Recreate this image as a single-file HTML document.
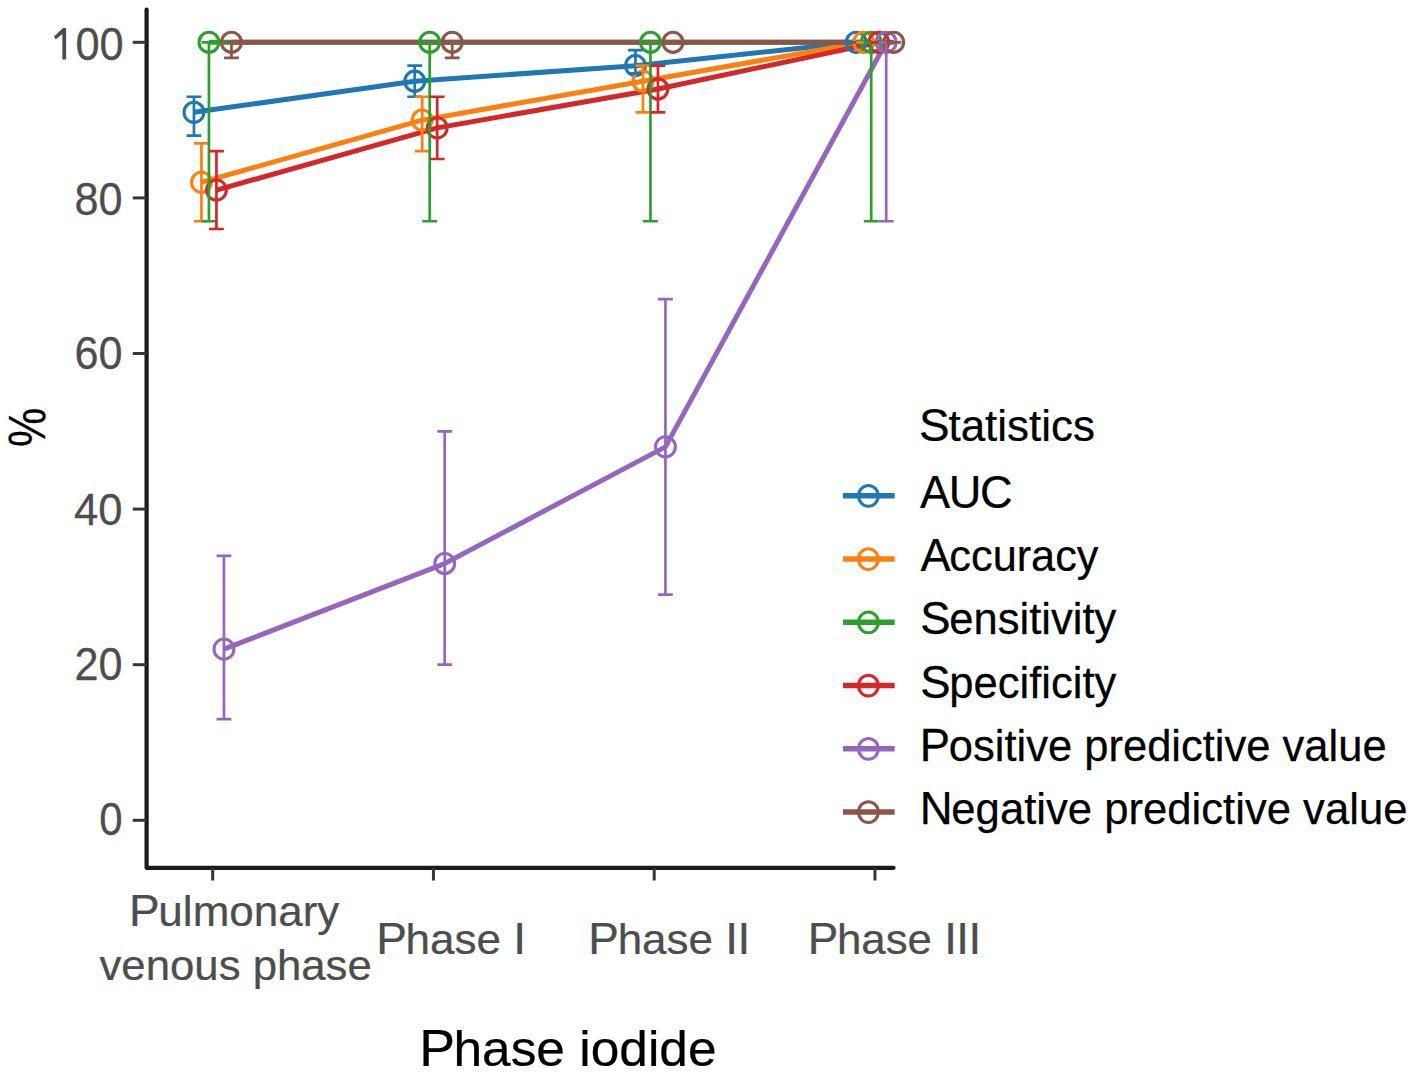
<!DOCTYPE html>
<html><head><meta charset="utf-8"><title>Phase iodide statistics</title>
<style>html,body{margin:0;padding:0;background:#fff;overflow:hidden;}svg{display:block;}text{font-family:"Liberation Sans", sans-serif;stroke-width:0.25px;stroke-linejoin:round;}</style>
</head><body>
<svg width="1417" height="1076" viewBox="0 0 1417 1076">
<rect x="0" y="0" width="1417" height="1076" fill="#ffffff"/>
<polyline points="193.95,112.32 414.70,81.20 635.45,65.64 856.20,42.30" fill="none" stroke="#1f77b4" stroke-width="5.0" stroke-linejoin="round" stroke-linecap="butt"/>
<polyline points="201.45,182.34 422.20,120.10 642.95,81.20 863.70,42.30" fill="none" stroke="#ff7f0e" stroke-width="5.0" stroke-linejoin="round" stroke-linecap="butt"/>
<polyline points="208.95,42.30 429.70,42.30 650.45,42.30 871.20,42.30" fill="none" stroke="#2ca02c" stroke-width="5.0" stroke-linejoin="round" stroke-linecap="butt"/>
<polyline points="216.45,190.12 437.20,127.88 657.95,88.98 878.70,42.30" fill="none" stroke="#d62728" stroke-width="5.0" stroke-linejoin="round" stroke-linecap="butt"/>
<polyline points="223.95,649.14 444.70,563.56 665.45,446.86 886.20,42.30" fill="none" stroke="#9467bd" stroke-width="5.0" stroke-linejoin="round" stroke-linecap="butt"/>
<polyline points="231.45,42.30 452.20,42.30 672.95,42.30 893.70,42.30" fill="none" stroke="#8c564b" stroke-width="5.0" stroke-linejoin="round" stroke-linecap="butt"/>
<ellipse cx="193.95" cy="112.32" rx="9.9" ry="10.1" fill="none" stroke="#1f77b4" stroke-width="3.1"/>
<ellipse cx="414.70" cy="81.20" rx="9.9" ry="10.1" fill="none" stroke="#1f77b4" stroke-width="3.1"/>
<ellipse cx="635.45" cy="65.64" rx="9.9" ry="10.1" fill="none" stroke="#1f77b4" stroke-width="3.1"/>
<ellipse cx="856.20" cy="42.30" rx="9.9" ry="10.1" fill="none" stroke="#1f77b4" stroke-width="3.1"/>
<ellipse cx="201.45" cy="182.34" rx="9.9" ry="10.1" fill="none" stroke="#ff7f0e" stroke-width="3.1"/>
<ellipse cx="422.20" cy="120.10" rx="9.9" ry="10.1" fill="none" stroke="#ff7f0e" stroke-width="3.1"/>
<ellipse cx="642.95" cy="81.20" rx="9.9" ry="10.1" fill="none" stroke="#ff7f0e" stroke-width="3.1"/>
<ellipse cx="863.70" cy="42.30" rx="9.9" ry="10.1" fill="none" stroke="#ff7f0e" stroke-width="3.1"/>
<ellipse cx="208.95" cy="42.30" rx="9.9" ry="10.1" fill="none" stroke="#2ca02c" stroke-width="3.1"/>
<ellipse cx="429.70" cy="42.30" rx="9.9" ry="10.1" fill="none" stroke="#2ca02c" stroke-width="3.1"/>
<ellipse cx="650.45" cy="42.30" rx="9.9" ry="10.1" fill="none" stroke="#2ca02c" stroke-width="3.1"/>
<ellipse cx="871.20" cy="42.30" rx="9.9" ry="10.1" fill="none" stroke="#2ca02c" stroke-width="3.1"/>
<ellipse cx="216.45" cy="190.12" rx="9.9" ry="10.1" fill="none" stroke="#d62728" stroke-width="3.1"/>
<ellipse cx="437.20" cy="127.88" rx="9.9" ry="10.1" fill="none" stroke="#d62728" stroke-width="3.1"/>
<ellipse cx="657.95" cy="88.98" rx="9.9" ry="10.1" fill="none" stroke="#d62728" stroke-width="3.1"/>
<ellipse cx="878.70" cy="42.30" rx="9.9" ry="10.1" fill="none" stroke="#d62728" stroke-width="3.1"/>
<ellipse cx="223.95" cy="649.14" rx="9.9" ry="10.1" fill="none" stroke="#9467bd" stroke-width="3.1"/>
<ellipse cx="444.70" cy="563.56" rx="9.9" ry="10.1" fill="none" stroke="#9467bd" stroke-width="3.1"/>
<ellipse cx="665.45" cy="446.86" rx="9.9" ry="10.1" fill="none" stroke="#9467bd" stroke-width="3.1"/>
<ellipse cx="886.20" cy="42.30" rx="9.9" ry="10.1" fill="none" stroke="#9467bd" stroke-width="3.1"/>
<ellipse cx="231.45" cy="42.30" rx="9.9" ry="10.1" fill="none" stroke="#8c564b" stroke-width="3.1"/>
<ellipse cx="452.20" cy="42.30" rx="9.9" ry="10.1" fill="none" stroke="#8c564b" stroke-width="3.1"/>
<ellipse cx="672.95" cy="42.30" rx="9.9" ry="10.1" fill="none" stroke="#8c564b" stroke-width="3.1"/>
<ellipse cx="893.70" cy="42.30" rx="9.9" ry="10.1" fill="none" stroke="#8c564b" stroke-width="3.1"/>
<path d="M186.55,96.76H201.35M193.95,96.76V135.66M186.55,135.66H201.35M407.30,65.64H422.10M414.70,65.64V96.76M407.30,96.76H422.10M628.05,50.08H642.85M635.45,50.08V73.42M628.05,73.42H642.85M848.80,42.30H863.60M856.20,42.30V42.30M848.80,42.30H863.60" fill="none" stroke="#1f77b4" stroke-width="2.7" stroke-linecap="butt"/>
<path d="M194.05,143.44H208.85M201.45,143.44V221.24M194.05,221.24H208.85M414.80,96.76H429.60M422.20,96.76V151.22M414.80,151.22H429.60M635.55,65.64H650.35M642.95,65.64V112.32M635.55,112.32H650.35M856.30,42.30H871.10M863.70,42.30V42.30M856.30,42.30H871.10" fill="none" stroke="#ff7f0e" stroke-width="2.7" stroke-linecap="butt"/>
<path d="M201.55,42.30H216.35M208.95,42.30V221.24M201.55,221.24H216.35M422.30,42.30H437.10M429.70,42.30V221.24M422.30,221.24H437.10M643.05,42.30H657.85M650.45,42.30V221.24M643.05,221.24H657.85M863.80,42.30H878.60M871.20,42.30V221.24M863.80,221.24H878.60" fill="none" stroke="#2ca02c" stroke-width="2.7" stroke-linecap="butt"/>
<path d="M209.05,151.22H223.85M216.45,151.22V229.02M209.05,229.02H223.85M429.80,96.76H444.60M437.20,96.76V159.00M429.80,159.00H444.60M650.55,65.64H665.35M657.95,65.64V112.32M650.55,112.32H665.35M871.30,42.30H886.10M878.70,42.30V42.30M871.30,42.30H886.10" fill="none" stroke="#d62728" stroke-width="2.7" stroke-linecap="butt"/>
<path d="M216.55,555.78H231.35M223.95,555.78V719.16M216.55,719.16H231.35M437.30,431.30H452.10M444.70,431.30V664.70M437.30,664.70H452.10M658.05,299.04H672.85M665.45,299.04V594.68M658.05,594.68H672.85M878.80,42.30H893.60M886.20,42.30V221.24M878.80,221.24H893.60" fill="none" stroke="#9467bd" stroke-width="2.7" stroke-linecap="butt"/>
<path d="M224.05,42.30H238.85M231.45,42.30V57.86M224.05,57.86H238.85M444.80,42.30H459.60M452.20,42.30V57.86M444.80,57.86H459.60M665.55,42.30H680.35M672.95,42.30V42.30M665.55,42.30H680.35M886.30,42.30H901.10M893.70,42.30V42.30M886.30,42.30H901.10" fill="none" stroke="#8c564b" stroke-width="2.7" stroke-linecap="butt"/>
<path d="M146.6,9.6V867.8H893.6" fill="none" stroke="#1a1a1a" stroke-width="4.2" stroke-linejoin="round" stroke-linecap="round"/>
<line x1="132.8" y1="820.30" x2="146.6" y2="820.30" stroke="#363636" stroke-width="3"/>
<text transform="translate(99.15,835.00) scale(0.9762,1.0724)" font-size="43" fill="#4d4d4d" stroke="#4d4d4d">0</text>
<line x1="132.8" y1="664.70" x2="146.6" y2="664.70" stroke="#363636" stroke-width="3"/>
<text transform="translate(74.39,679.70) scale(1.0044,1.0862)" font-size="43" fill="#4d4d4d" stroke="#4d4d4d">20</text>
<line x1="132.8" y1="509.10" x2="146.6" y2="509.10" stroke="#363636" stroke-width="3"/>
<text transform="translate(73.99,525.40) scale(1.0130,1.0483)" font-size="43" fill="#4d4d4d" stroke="#4d4d4d">40</text>
<line x1="132.8" y1="353.50" x2="146.6" y2="353.50" stroke="#363636" stroke-width="3"/>
<text transform="translate(74.39,369.30) scale(1.0044,1.0586)" font-size="43" fill="#4d4d4d" stroke="#4d4d4d">60</text>
<line x1="132.8" y1="197.90" x2="146.6" y2="197.90" stroke="#363636" stroke-width="3"/>
<text transform="translate(74.39,215.40) scale(1.0044,1.0724)" font-size="43" fill="#4d4d4d" stroke="#4d4d4d">80</text>
<line x1="132.8" y1="42.30" x2="146.6" y2="42.30" stroke="#363636" stroke-width="3"/>
<text transform="translate(51.37,59.60) scale(1.0090,1.0931)" x="23.915" font-size="43" fill="#4d4d4d" stroke="#4d4d4d">00</text>
<path d="M66.1,27.9H63.0L54.0,36.4L55.7,39.4L62.3,34.0V59.6H66.1Z" fill="#4d4d4d"/>
<line x1="212.70" y1="867.8" x2="212.70" y2="880.5" stroke="#363636" stroke-width="3"/>
<line x1="433.45" y1="867.8" x2="433.45" y2="880.5" stroke="#363636" stroke-width="3"/>
<line x1="654.20" y1="867.8" x2="654.20" y2="880.5" stroke="#363636" stroke-width="3"/>
<line x1="874.95" y1="867.8" x2="874.95" y2="880.5" stroke="#363636" stroke-width="3"/>
<text transform="translate(129.03,926.30) scale(1.0236,0.9950)" font-size="43" fill="#4d4d4d" stroke="#4d4d4d"><tspan font-size="44.892">P</tspan><tspan dx="-1.262">u</tspan>lmonary</text>
<text transform="translate(99.50,979.70) scale(1.0173,0.9950)" font-size="43" fill="#4d4d4d" stroke="#4d4d4d">venous phase</text>
<text transform="translate(376.13,953.70) scale(1.0245,0.9950)" font-size="43" fill="#4d4d4d" stroke="#4d4d4d"><tspan font-size="44.892">P</tspan><tspan dx="-1.262">h</tspan>ase <tspan font-size="44.892">I</tspan></text>
<text transform="translate(588.33,953.70) scale(1.0225,0.9950)" font-size="43" fill="#4d4d4d" stroke="#4d4d4d"><tspan font-size="44.892">P</tspan><tspan dx="-1.262">h</tspan>ase <tspan font-size="44.892">I</tspan><tspan font-size="44.892" dx="-0.526">I</tspan></text>
<text transform="translate(807.74,953.70) scale(1.0190,0.9950)" font-size="43" fill="#4d4d4d" stroke="#4d4d4d"><tspan font-size="44.892">P</tspan><tspan dx="-1.262">h</tspan>ase <tspan font-size="44.892">I</tspan><tspan font-size="44.892" dx="-0.526">I</tspan><tspan font-size="44.892" dx="-0.526">I</tspan></text>
<text transform="translate(419.13,1066.00) scale(1.0288,1.0000)" font-size="50" fill="#000000" stroke="#000000"><tspan font-size="52.200">P</tspan><tspan dx="-1.467">h</tspan>ase iodide</text>
<text transform="translate(45.40,447.07) scale(1.0194,0.8829) rotate(-90)" font-size="50" fill="#000000" stroke="#000000">%</text>
<text transform="translate(919.10,441.30) scale(0.9994,1.0000)" font-size="44" fill="#000000" stroke="#000000"><tspan font-size="45.936">S</tspan><tspan dx="-1.291">t</tspan>atistics</text>
<line x1="843.0" y1="495.85" x2="894.7" y2="495.85" stroke="#1f77b4" stroke-width="5.5"/>
<ellipse cx="868.4" cy="495.85" rx="9.9" ry="10.4" fill="none" stroke="#1f77b4" stroke-width="3.1"/>
<text transform="translate(920.00,507.75) scale(0.9835,1.0000)" font-size="44" fill="#000000" stroke="#000000"><tspan font-size="45.936">A</tspan><tspan font-size="45.936" dx="-1.291">U</tspan><tspan font-size="45.936" dx="-1.398">C</tspan></text>
<line x1="843.0" y1="559.10" x2="894.7" y2="559.10" stroke="#ff7f0e" stroke-width="5.5"/>
<ellipse cx="868.4" cy="559.10" rx="9.9" ry="10.4" fill="none" stroke="#ff7f0e" stroke-width="3.1"/>
<text transform="translate(920.50,571.00) scale(0.9840,1.0000)" font-size="44" fill="#000000" stroke="#000000"><tspan font-size="45.936">A</tspan><tspan dx="-1.291">c</tspan>curacy</text>
<line x1="843.0" y1="622.35" x2="894.7" y2="622.35" stroke="#2ca02c" stroke-width="5.5"/>
<ellipse cx="868.4" cy="622.35" rx="9.9" ry="10.4" fill="none" stroke="#2ca02c" stroke-width="3.1"/>
<text transform="translate(920.32,634.25) scale(0.9903,1.0000)" font-size="44" fill="#000000" stroke="#000000"><tspan font-size="45.936">S</tspan><tspan dx="-1.291">e</tspan>nsitivity</text>
<line x1="843.0" y1="685.60" x2="894.7" y2="685.60" stroke="#d62728" stroke-width="5.5"/>
<ellipse cx="868.4" cy="685.60" rx="9.9" ry="10.4" fill="none" stroke="#d62728" stroke-width="3.1"/>
<text transform="translate(920.32,697.50) scale(0.9903,1.0000)" font-size="44" fill="#000000" stroke="#000000"><tspan font-size="45.936">S</tspan><tspan dx="-1.291">p</tspan>ecificity</text>
<line x1="843.0" y1="748.85" x2="894.7" y2="748.85" stroke="#9467bd" stroke-width="5.5"/>
<ellipse cx="868.4" cy="748.85" rx="9.9" ry="10.4" fill="none" stroke="#9467bd" stroke-width="3.1"/>
<text transform="translate(919.83,760.75) scale(0.9891,1.0000)" font-size="44" fill="#000000" stroke="#000000"><tspan font-size="45.936">P</tspan><tspan dx="-1.291">o</tspan>sitive predictive value</text>
<line x1="843.0" y1="812.10" x2="894.7" y2="812.10" stroke="#8c564b" stroke-width="5.5"/>
<ellipse cx="868.4" cy="812.10" rx="9.9" ry="10.4" fill="none" stroke="#8c564b" stroke-width="3.1"/>
<text transform="translate(919.82,824.00) scale(0.9922,1.0000)" font-size="44" fill="#000000" stroke="#000000"><tspan font-size="45.936">N</tspan><tspan dx="-1.398">e</tspan>gative predictive value</text>
</svg>
</body></html>
